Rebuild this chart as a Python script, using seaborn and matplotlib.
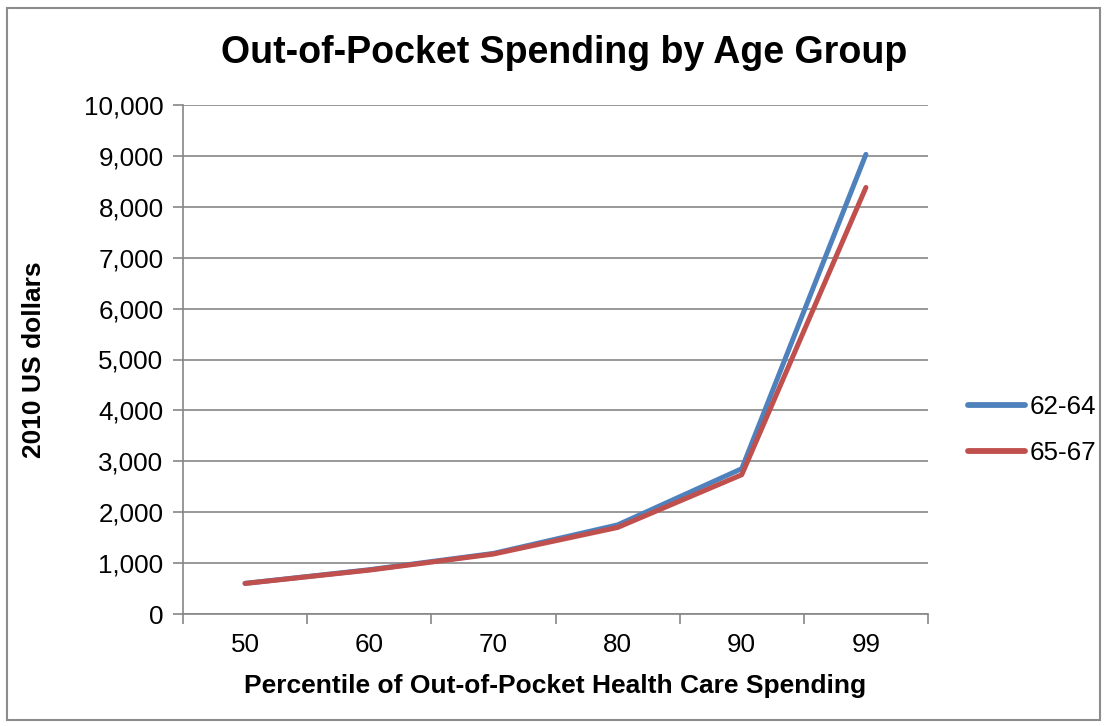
import matplotlib
matplotlib.use("Agg")
import matplotlib.pyplot as plt
import seaborn as sns
import pandas as pd
from matplotlib.patches import Rectangle
from matplotlib.ticker import FuncFormatter, FixedLocator

percentiles = ["50", "60", "70", "80", "90", "99"]
age_62_64 = [602, 870, 1190, 1750, 2855, 9030]
age_65_67 = [600, 862, 1178, 1700, 2736, 8380]
series_names = ["62-64", "65-67"]
colors = ["#4F81BD", "#C0504D"]

rows = []
for name, vals in zip(series_names, [age_62_64, age_65_67]):
    for i, (p, v) in enumerate(zip(percentiles, vals)):
        rows.append({"pos": i, "Percentile": p, "Value": v, "Series": name})
df = pd.DataFrame(rows)

sns.set_theme(style="white")
plt.rcParams['font.family'] = ['Liberation Sans', 'DejaVu Sans']

fig = plt.figure(figsize=(11.09, 7.26), dpi=100)
ax = fig.add_axes([183/1109, 1-614/726, (928-183)/1109, (614-105)/726])

sns.lineplot(data=df, x="pos", y="Value", hue="Series", palette=colors,
             linewidth=3.6, ax=ax, solid_capstyle="round", solid_joinstyle="round")

ax.set_xlim(-0.5, len(percentiles) - 0.5)
ax.set_ylim(0, 10000)
ax.set_yticks(range(0, 10001, 1000))
ax.yaxis.set_major_formatter(FuncFormatter(lambda v, p: f"{int(v):,}"))
ax.set_xticks(range(len(percentiles)))
ax.set_xticklabels(percentiles)
ax.xaxis.set_minor_locator(FixedLocator([i - 0.5 for i in range(len(percentiles) + 1)]))

grid_c = "#868686"
ax.grid(axis="y", color=grid_c, linewidth=1.2)
ax.set_axisbelow(True)
for s in ["top", "right"]:
    ax.spines[s].set_visible(False)
for s in ["left", "bottom"]:
    ax.spines[s].set_color(grid_c)
    ax.spines[s].set_linewidth(1.2)

ax.tick_params(axis="y", which="major", direction="out", length=7, width=1.2,
               color=grid_c, labelsize=18.7, pad=7, left=True, labelcolor="black")
ax.tick_params(axis="x", which="major", length=0, labelsize=18.7, pad=14, labelcolor="black")
ax.tick_params(axis="x", which="minor", direction="out", length=7, width=1.2,
               color=grid_c, bottom=True)

ax.set_xlabel("Percentile of Out-of-Pocket Health Care Spending", fontsize=19,
              fontweight="bold", labelpad=12, color="black")
ax.set_ylabel("2010 US dollars", fontsize=19, fontweight="bold", labelpad=27, color="black")

fig.text(564/1109, 1-53/726, "Out-of-Pocket Spending by Age Group", fontsize=27,
         fontweight="bold", ha="center", va="center", color="black")

leg = ax.legend(loc="center left", bbox_to_anchor=(950/1109, 1-430/726),
                bbox_transform=fig.transFigure, frameon=False, fontsize=18.7,
                handlelength=2.2, handletextpad=0.15, labelspacing=0.85,
                borderpad=0.2, title=None)
for line in leg.get_lines():
    line.set_linewidth(4.2)
for t in leg.get_texts():
    t.set_color("black")

fig.patches.append(Rectangle((7/1109, 1-720/726), (1100-7)/1109, (720-8)/726,
                             transform=fig.transFigure, fill=False,
                             edgecolor="#8c8c8c", linewidth=1.5))

fig.savefig("out.png", dpi=100)
